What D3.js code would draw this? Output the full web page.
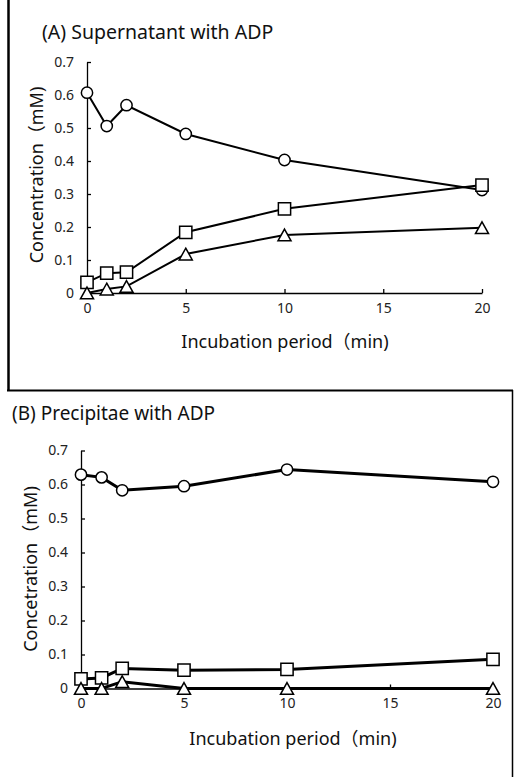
<!DOCTYPE html>
<html>
<head>
<meta charset="utf-8">
<script src="https://cdn.jsdelivr.net/npm/d3@7"></script>
<style>
  body { margin: 0; background: #fff; }
  svg { display: block; font-family: "Noto Sans", "Noto Sans CJK JP", sans-serif; }
</style>
</head>
<body>
<svg id="chart" width="515" height="777"></svg>
<script>
// incubation times (min)
const times = [0, 1, 2, 5, 10, 20];
const xTicks = [0, 5, 10, 15, 20];
const yTicks = [0, 0.1, 0.2, 0.3, 0.4, 0.5, 0.6, 0.7];

// (A) supernatant
const supCircle = [0.607, 0.506, 0.569, 0.482, 0.403, 0.312];
const supSquare = [0.032, 0.06, 0.063, 0.184, 0.255, 0.327];
const supTriangle = [0, 0.012, 0.02, 0.118, 0.176, 0.198];

// (B) precipitate
const preCircle = [0.629, 0.621, 0.583, 0.595, 0.644, 0.608];
const preSquare = [0.028, 0.031, 0.059, 0.054, 0.056, 0.086];
const preTriangle = [0, 0, 0.02, 0, 0, 0];

const svg = d3.select("#chart");

// triangle centred on its bounding box, like spreadsheet markers
const triBox = {
  draw(ctx, size) {
    const s = Math.sqrt(size);
    const h = s * 0.9;
    ctx.moveTo(0, -h / 2);
    ctx.lineTo(s / 2, h / 2);
    ctx.lineTo(-s / 2, h / 2);
    ctx.closePath();
  }
};

function panel(cfg) {
  const x = d3.scaleLinear().domain([0, 20]).range(cfg.xr);
  const y = d3.scaleLinear().domain([0, 0.7]).range(cfg.yr);
  const g = svg.append("g");

  const yAxis = g.append("g")
      .attr("transform", `translate(${cfg.xr[0]},0)`)
      .call(d3.axisLeft(y).tickValues(yTicks).tickFormat(d => d === 0 ? "0" : d3.format(".1f")(d))
        .tickSizeInner(-4).tickSizeOuter(0).tickPadding(cfg.yPad));
  const xAxis = g.append("g")
      .attr("transform", `translate(0,${cfg.yr[0]})`)
      .call(d3.axisBottom(x).tickValues(xTicks).tickSizeInner(-4).tickSizeOuter(0).tickPadding(10));

  [yAxis, xAxis].forEach(a => {
    a.selectAll("path, line").attr("stroke", "#000").attr("stroke-width", 1.3);
    a.selectAll("text").attr("font-size", 14).attr("fill", "#222")
      .attr("font-family", "\"Noto Sans\", sans-serif");
  });

  const line = d3.line().x((d, i) => x(times[i])).y(d => y(d));
  const series = [
    { vals: cfg.circle, type: d3.symbolCircle, size: 100 },
    { vals: cfg.square, type: d3.symbolSquare, size: 150 },
    { vals: cfg.triangle, type: triBox, size: 170 }
  ];

  series.forEach(s => {
    g.append("path")
      .datum(s.vals)
      .attr("d", line)
      .attr("fill", "none")
      .attr("stroke", "#000")
      .attr("stroke-width", cfg.lw);
  });
  series.forEach(s => {
    g.append("g").selectAll("path")
      .data(s.vals)
      .join("path")
        .attr("transform", (d, i) => `translate(${x(times[i])},${y(d)})`)
        .attr("d", d3.symbol().type(s.type).size(s.size))
        .attr("fill", "#fff")
        .attr("stroke", "#000")
        .attr("stroke-width", 1.5);
  });

  g.append("text")
      .attr("x", cfg.titleX).attr("y", cfg.titleY)
      .attr("font-size", cfg.titleSize).attr("fill", "#111")
      .text(cfg.title);

  g.append("text")
      .attr("x", cfg.xTitle[0]).attr("y", cfg.xTitle[1])
      .attr("text-anchor", "middle")
      .attr("font-size", 18).attr("fill", "#111")
      .text("Incubation period（min)");

  g.append("text")
      .attr("transform", `translate(${cfg.yTitle[0]},${cfg.yTitle[1]}) rotate(-90)`)
      .attr("text-anchor", "middle")
      .attr("font-size", 18).attr("fill", "#111")
      .text(cfg.yLabel);
}

panel({
  xr: [87, 482], yr: [293, 62], lw: 2, yPad: 13,
  circle: supCircle, square: supSquare, triangle: supTriangle,
  title: "(A) Supernatant with ADP", titleX: 42, titleY: 39, titleSize: 19.5,
  xTitle: [285, 348], yTitle: [43, 175], yLabel: "Concentration（mM)"
});

panel({
  xr: [81, 493], yr: [688.5, 450.5], lw: 3, yPad: 13,
  circle: preCircle, square: preSquare, triangle: preTriangle,
  title: "(B) Precipitae with ADP", titleX: 12, titleY: 420, titleSize: 19,
  xTitle: [293, 745], yTitle: [37, 569], yLabel: "Concetration（mM)"
});

// frame lines from the cropped figure
const frame = svg.append("g").attr("stroke", "#000").attr("fill", "none");
frame.append("line").attr("x1", 8.5).attr("x2", 8.5).attr("y1", 0).attr("y2", 391).attr("stroke-width", 2.5);
frame.append("line").attr("x1", 7).attr("x2", 513).attr("y1", 390.5).attr("y2", 390.5).attr("stroke-width", 2);
frame.append("line").attr("x1", 512.5).attr("x2", 512.5).attr("y1", 390).attr("y2", 777).attr("stroke-width", 1.5);
</script>
</body>
</html>
